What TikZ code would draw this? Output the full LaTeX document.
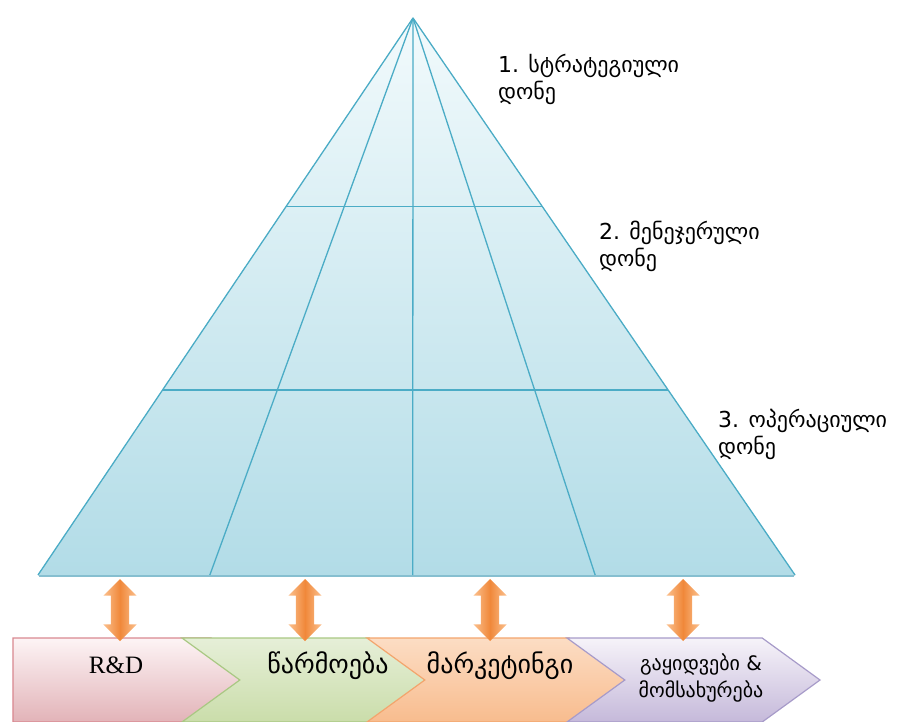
\documentclass[tikz,border=0pt]{standalone}
\usepackage{fontspec}
\usepackage{tikz}
\usetikzlibrary{calc,shapes.arrows,shapes.symbols}

\newfontfamily\geofont{DejaVu Sans}
\newfontfamily\latinfont{Liberation Serif}

\definecolor{pyrline}{HTML}{4BACC6}
\definecolor{pyrtop}{HTML}{F2FAFC}
\definecolor{pyrbot}{HTML}{B2DCE7}
\definecolor{pyredge}{HTML}{86BFD0}
\definecolor{arrlight}{HTML}{FBC08E}
\definecolor{arrdark}{HTML}{F0883A}
\definecolor{rdtop}{HTML}{FDF4F5}
\definecolor{rdbot}{HTML}{E2B3B8}
\definecolor{rdline}{HTML}{D98890}
\definecolor{prtop}{HTML}{E6EFD8}
\definecolor{prbot}{HTML}{CADDAA}
\definecolor{prline}{HTML}{A9C883}
\definecolor{mktop}{HTML}{FCDDC4}
\definecolor{mkbot}{HTML}{F8BC8E}
\definecolor{mkline}{HTML}{F3A56D}
\definecolor{satop}{HTML}{F6F3F9}
\definecolor{sabot}{HTML}{C5B9DA}
\definecolor{saline}{HTML}{A79BC9}

\tikzset{
    lvl/.style={font=\geofont\fontsize{22}{27}\selectfont, align=left, anchor=base west, inner sep=0pt},
    chev/.style={signal, signal to=east, signal pointer angle=72, minimum height=84pt, inner sep=0pt, line width=1.2pt},
    chevtext/.style={font=\geofont\fontsize{26}{27}\selectfont, anchor=base, inner sep=0pt},
    smalltext/.style={font=\geofont\fontsize{20}{27}\selectfont, align=center, anchor=base, inner sep=0pt},
    dblarr/.style={double arrow, shape border rotate=90, double arrow head extend=7.5pt, inner sep=9pt, minimum height=62pt, left color=arrlight, right color=arrlight, middle color=arrdark},
    pline/.style={pyrline, line width=1.3pt}
}

\begin{document}
\begin{tikzpicture}[x=1pt, y=-1pt]
    \useasboundingbox (0, 0) rectangle (900, 722);

    % pyramid
    \coordinate (apex) at (413, 18);
    \coordinate (bl) at (38, 575);
    \coordinate (br) at (795, 575);
    \fill[top color=pyrtop, bottom color=pyrbot] (apex) -- (bl) -- (br) -- cycle;
    \draw[pyredge, line width=2.5pt] ($(bl) + (1, 1)$) -- ($(br) + (-1, 1)$);
    \draw[pline] (apex) -- (bl);
    \draw[pline] (apex) -- (br);
    \foreach \f [count=\i] in {0.339, 0.668} {
      \coordinate (hl\i) at ($(apex)!\f!(bl)$);
      \coordinate (hr\i) at ($(apex)!\f!(br)$);
      \draw[pline] (hl\i) -- (hr\i);
    }
    \foreach \f [count=\i] in {0.227, 0.495, 0.736} {
      \coordinate (b\i) at ($(bl)!\f!(br)$);
      \draw[pline] (apex) -- (b\i);
    }

    % levels
    \node[lvl] (lvl1) at (498, 100) {1. სტრატეგიული\\დონე};
    \node[lvl] (lvl2) at (599, 267) {2. მენეჯერული\\დონე};
    \node[lvl] (lvl3) at (718, 454) {3. ოპერაციული\\დონე};

    % chain
    \node[chev, draw=rdline, top color=rdtop, bottom color=rdbot, minimum width=256pt] (rd) at (112, 680) {};
    \node[chev, signal from=west, draw=prline, top color=prtop, bottom color=prbot, minimum width=245pt] (prod) at (304.5, 680) {};
    \node[chev, signal from=west, draw=mkline, top color=mktop, bottom color=mkbot, minimum width=260pt] (mkt) at (497, 680) {};
    \node[chev, signal from=west, draw=saline, top color=satop, bottom color=sabot, minimum width=253pt] (sales) at (693.5, 680) {};
    \node[font=\latinfont\fontsize{25}{27}\selectfont, anchor=base, inner sep=0pt] (rdtext) at (116, 673) {R\&D};
    \node[chevtext] (prodtext) at (328, 673) {წარმოება};
    \node[chevtext] (mkttext) at (500, 673) {მარკეტინგი};
    \node[smalltext] (salestext) at (701, 697) {გაყიდვები \&\\მომსახურება};

    % links
    \node[dblarr] (arr1) at (120, 610) {};
    \node[dblarr] (arr2) at (305, 610) {};
    \node[dblarr] (arr3) at (490, 610) {};
    \node[dblarr] (arr4) at (683, 610) {};
\end{tikzpicture}
\end{document}
